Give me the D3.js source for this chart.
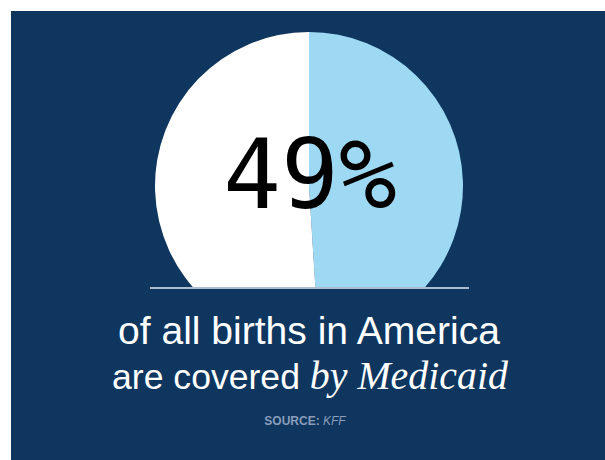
<!DOCTYPE html>
<html>
<head>
<meta charset="utf-8">
<script src="https://cdn.jsdelivr.net/npm/d3@7"></script>
<style>
  html, body { margin: 0; padding: 0; background: #ffffff; }
  svg { display: block; }
</style>
</head>
<body>
<svg id="chart" width="605" height="460"></svg>
<script>
// ---- data ----
const categories = ["Medicaid", "Other"];
const values = [49, 51];
const headline = "49%";
const line1 = "of all births in America";
const line2Plain = "are covered ";
const line2Italic = "by Medicaid";
const sourceLabel = "SOURCE:";
const sourceName = "KFF";

const W = 605, H = 460;
const svg = d3.select("#chart");

// panel
svg.append("rect").attr("x", 11).attr("y", 11).attr("width", W - 11).attr("height", H - 11)
  .attr("fill", "#0e365f");

const cx = 309, cy = 186, r = 154, baseY = 288;

svg.append("defs").append("clipPath").attr("id", "clip")
  .append("rect").attr("x", 0).attr("y", 0).attr("width", W).attr("height", baseY);

const color = d3.scaleOrdinal().domain(categories).range(["#9dd9f3", "#ffffff"]);
const pie = d3.pie().sort(null).value(d => d)(values);
const arc = d3.arc().innerRadius(0).outerRadius(r);

svg.append("g").attr("clip-path", "url(#clip)")
  .append("g").attr("transform", `translate(${cx},${cy})`)
  .selectAll("path").data(pie).join("path")
  .attr("d", arc)
  .attr("fill", (d, i) => color(categories[i]));

// baseline
svg.append("line").attr("x1", 150).attr("x2", 469).attr("y1", baseY).attr("y2", baseY)
  .attr("stroke", "#aebbd0").attr("stroke-width", 2);

// headline
svg.append("text").attr("x", 310).attr("y", 208).attr("text-anchor", "middle")
  .attr("font-family", "'DejaVu Sans Mono', monospace").attr("font-size", 96)
  .attr("fill", "#000").text(headline);

function fit(sel, target) {
  const w = sel.node().getComputedTextLength();
  return target / w;
}

// line 1
const t1 = svg.append("text").attr("x", 309).attr("y", 344).attr("text-anchor", "middle")
  .attr("font-family", "'Liberation Sans', Arial, sans-serif").attr("font-size", 100)
  .attr("fill", "#ffffff").text(line1);
const s1 = fit(t1, 382);
t1.attr("font-size", 100 * s1);

// line 2
const t2 = svg.append("text").attr("x", 310).attr("y", 389).attr("text-anchor", "middle")
  .attr("fill", "#ffffff").attr("font-size", 100);
const a = t2.append("tspan").attr("font-family", "'Liberation Sans', Arial, sans-serif").text(line2Plain);
const b = t2.append("tspan").attr("font-family", "'Liberation Serif', serif").attr("font-style", "italic")
  .attr("font-size", 112).text(line2Italic);
const s2 = fit(t2, 396);
t2.attr("font-size", 100 * s2);
b.attr("font-size", 112 * s2);

// source
const src = svg.append("text").attr("x", 305).attr("y", 425).attr("text-anchor", "middle")
  .attr("font-size", 12).attr("fill", "#8a9dbb");
src.append("tspan").attr("font-family", "'Liberation Sans Narrow', 'Liberation Sans', sans-serif")
  .attr("font-weight", "bold").text(sourceLabel + " ");
src.append("tspan").attr("font-family", "'Liberation Sans Narrow', 'Liberation Sans', sans-serif")
  .attr("font-style", "italic").text(sourceName);
</script>
</body>
</html>
